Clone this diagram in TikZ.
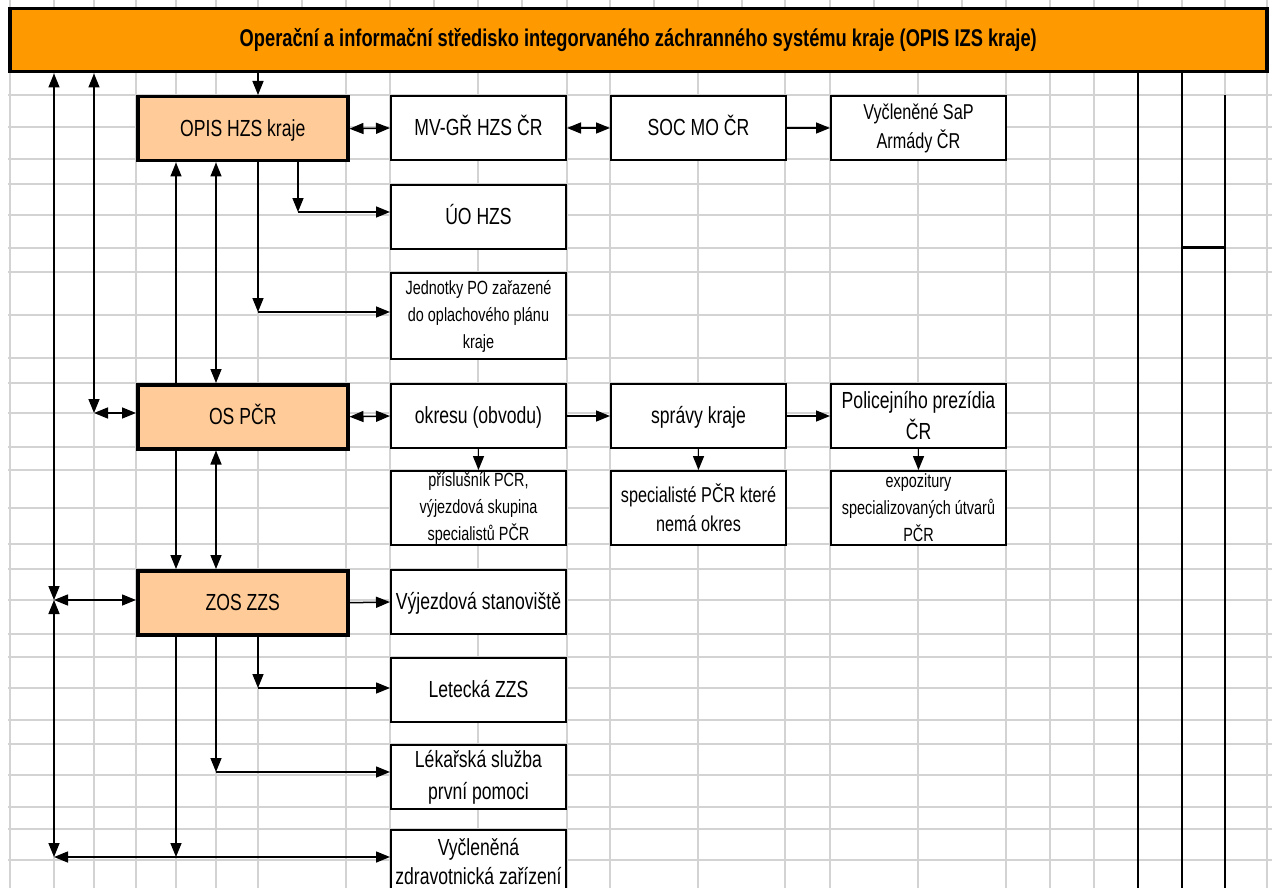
\documentclass[tikz,border=0pt]{standalone}
\usepackage{fontspec}
\setmainfont{Liberation Sans}[FakeStretch=0.755]
\usetikzlibrary{arrows.meta}
\definecolor{hdrorange}{HTML}{FF9900}
\definecolor{peach}{HTML}{FFCC99}
\definecolor{gridgray}{HTML}{D3D3D3}
\newcommand\hdrtxt{\fontsize{24.2}{28}\bfseries\selectfont}
\newcommand\bigtxt{\fontsize{23.3}{31}\selectfont}
\newcommand\midtxt{\fontsize{21.5}{29}\selectfont}
\newcommand\smalltxt{\fontsize{19.1}{27}\selectfont}
\begin{document}
\begin{tikzpicture}[x=1pt, y=-1pt,
    box/.style={draw, line width=2pt, fill=white, anchor=north west,
        minimum width=175pt, minimum height=64pt, inner sep=0pt,
        align=center, font=\bigtxt},
    oneline/.style={text height=15pt, text depth=0pt},
    keybox/.style={box, oneline, line width=3.5pt, fill=peach, minimum width=210pt},
    arr/.style={line width=1.5pt, -{Triangle[length=14pt,width=11pt]}},
    both/.style={line width=1.5pt,
        {Triangle[length=14pt,width=11pt]}-{Triangle[length=14pt,width=11pt]}}]
    \clip (0,0) rectangle (1272,888);
    \fill[white] (0,0) rectangle (1272,888);

    \foreach \x in {10,54,94,136,176,216,258,346,390,478,567,610,698,785,830,918,1006,1050,1094,1225,1267}
        \draw[gridgray, line width=1.5pt] (\x,0) -- (\x,888);
    \foreach \x in {302,434,522,654,742,874,962,1138,1182}
        \draw[gridgray, line width=1.5pt] (\x,0) -- (\x,10);
    \foreach \y in {95,127,159,184,215,248,272,315,358,383,413,447,470,508,544,569,600,634,657,688,720,744,775,807,829,860}
        \draw[gridgray, line width=1.5pt] (8,\y) -- (1272,\y);

    \draw[line width=1.8pt] (1138,70) -- (1138,888);
    \draw[line width=1.8pt] (1182,70) -- (1182,888);
    \draw[line width=1.8pt] (1225,95) -- (1225,888);
    \draw[line width=3pt] (1182,247) -- (1225,247);

    \node[draw, line width=3.5pt, fill=hdrorange, anchor=north west,
        minimum width=1257pt, minimum height=63pt, inner sep=0pt, font=\hdrtxt]
        (hdr) at (8,7) {Operační a informační středisko integorvaného záchranného systému kraje (OPIS IZS kraje)};

    \node[keybox] (opis) at (136,95) {OPIS HZS kraje};
    \node[box, oneline] (mv) at (390,95) {MV-GŘ HZS ČR};
    \node[box, oneline] (soc) at (610,95) {SOC MO ČR};
    \node[box, font=\midtxt] (sap) at (830,95) {Vyčleněné SaP\\Armády ČR};
    \node[box, oneline] (uo) at (390,184) {ÚO HZS};
    \node[box, minimum height=86pt, font=\smalltxt] (jpo) at (390,272)
        {Jednotky PO zařazené\\do oplachového plánu\\kraje};

    \node[keybox] (os) at (136,383) {OS PČR};
    \node[box, oneline] (okr) at (390,383) {okresu (obvodu)};
    \node[box, oneline] (spr) at (610,383) {správy kraje};
    \node[box] (pp) at (830,383) {Policejního prezídia\\ČR};
    \node[box, minimum height=74pt, font=\smalltxt] (psl) at (390,470)
        {příslušník PCR,\\výjezdová skupina\\specialistů PČR};
    \node[box, minimum height=74pt, font=\midtxt] (spec) at (610,470)
        {specialisté PČR které\\nemá okres};
    \node[box, minimum height=74pt, font=\smalltxt] (expo) at (830,470)
        {expozitury\\specializovaných útvarů\\PČR};

    \node[keybox] (zos) at (136,569) {ZOS ZZS};
    \node[box, oneline] (vs) at (390,569) {Výjezdová stanoviště};
    \node[box, oneline] (let) at (390,657) {Letecká ZZS};
    \node[box, font=\fontsize{23.3}{32}\selectfont] (lek) at (390,744)
        {Lékařská služba\\první pomoci};
    \node[box, font=\fontsize{23.3}{29}\selectfont] (vz) at (390,829)
        {Vyčleněná\\zdravotnická zařízení};

    \coordinate (lo) at (94,413);
    \coordinate (lz) at (54,600);
    \coordinate (lb) at (54,857);
    \coordinate (kuo) at (298,212);
    \coordinate (kjp) at (258,312);
    \coordinate (klet) at (258,688);
    \coordinate (klek) at (216,772);
    \coordinate (kvz) at (176,857);

    \draw[arr] (hdr.south -| 258,0) -- (opis.north -| 258,0);
    \draw[both] (lo) -- (lo |- hdr.south);
    \draw[both] (lo) -- (os.west |- lo);
    \draw[both] (lz) -- (lz |- hdr.south);
    \draw[both] (lz) -- (zos.west |- lz);
    \draw[both] (lz) -- (lb);
    \draw[both] (lb) -- (vz.west |- lb);

    \draw[both] (opis.east) -- (mv.west);
    \draw[both] (mv.east) -- (soc.west);
    \draw[arr] (soc.east) -- (sap.west);
    \draw[arr] (opis.south -| kuo) -- (kuo);
    \draw[arr] (kuo) -- (uo.west |- kuo);
    \draw[arr] (opis.south -| kjp) -- (kjp);
    \draw[arr] (kjp) -- (jpo.west |- kjp);

    \draw[arr] (os.north -| 176,0) -- (opis.south -| 176,0);
    \draw[both] (opis.south -| 216,0) -- (os.north -| 216,0);
    \draw[both] (os.east) -- (okr.west);
    \draw[arr] (okr.east) -- (spr.west);
    \draw[arr] (spr.east) -- (pp.west);
    \draw[arr] (okr.south) -- (psl.north);
    \draw[arr] (spr.south) -- (spec.north);
    \draw[arr] (pp.south) -- (expo.north);

    \draw[arr] (os.south -| 176,0) -- (zos.north -| 176,0);
    \draw[both] (os.south -| 216,0) -- (zos.north -| 216,0);
    \draw[arr] (zos.east) -- (vs.west);
    \draw[arr] (zos.south -| klet) -- (klet);
    \draw[arr] (klet) -- (let.west |- klet);
    \draw[arr] (zos.south -| klek) -- (klek);
    \draw[arr] (klek) -- (lek.west |- klek);
    \draw[arr] (zos.south -| kvz) -- (kvz);
\end{tikzpicture}
\end{document}
